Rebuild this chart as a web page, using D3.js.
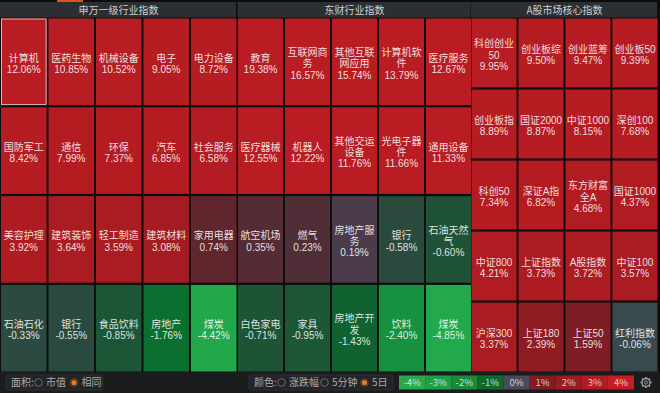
<!DOCTYPE html>
<html>
<head>
<meta charset="utf-8">
<script src="https://cdn.jsdelivr.net/npm/d3@7"></script>
<style>
  body { margin: 0; background: #0d0d0d; }
  text { font-family: "Noto Sans CJK SC", "Noto Sans", sans-serif; }
  text.cell { font-family: "Liberation Sans Narrow", "Liberation Sans", "Noto Sans CJK SC", sans-serif; }
</style>
</head>
<body>
<div id="chart"></div>
<script>
// panel titles
var panelTitles = ['申万一级行业指数', '东财行业指数', 'A股市场核心指数'];

// 申万一级行业指数
var swNames = ['计算机', '医药生物', '机械设备', '电子', '电力设备',
               '国防军工', '通信', '环保', '汽车', '社会服务',
               '美容护理', '建筑装饰', '轻工制造', '建筑材料', '家用电器',
               '石油石化', '银行', '食品饮料', '房地产', '煤炭'];
var swValues = [12.06, 10.85, 10.52, 9.05, 8.72,
                8.42, 7.99, 7.37, 6.85, 6.58,
                3.92, 3.64, 3.59, 3.08, 0.74,
                -0.33, -0.55, -0.85, -1.76, -4.42];

// 东财行业指数
var dcNames = ['教育', '互联网商务', '其他互联网应用', '计算机软件', '医疗服务',
               '医疗器械', '机器人', '其他交运设备', '光电子器件', '通用设备',
               '航空机场', '燃气', '房地产服务', '银行', '石油天然气',
               '白色家电', '家具', '房地产开发', '饮料', '煤炭'];
var dcValues = [19.38, 16.57, 15.74, 13.79, 12.67,
                12.55, 12.22, 11.76, 11.66, 11.33,
                0.35, 0.23, 0.19, -0.58, -0.60,
                -0.71, -0.95, -1.43, -2.40, -4.85];

// A股市场核心指数
var coreNames = ['科创创业50', '创业板综', '创业蓝筹', '创业板50',
                 '创业板指', '国证2000', '中证1000', '深创100',
                 '科创50', '深证A指', '东方财富全A', '国证1000',
                 '中证800', '上证指数', 'A股指数', '中证100',
                 '沪深300', '上证180', '上证50', '红利指数'];
var coreValues = [9.95, 9.50, 9.47, 9.39,
                  8.89, 8.87, 8.15, 7.68,
                  7.34, 6.82, 4.68, 4.37,
                  4.21, 3.73, 3.72, 3.57,
                  3.37, 2.39, 1.59, -0.06];

// legend
var legendLabels = ['-4%', '-3%', '-2%', '-1%', '0%', '1%', '2%', '3%', '4%'];

var chart_width = 660
var chart_height = 393

var svg = d3.select('#chart')
    .append('svg')
    .attr('width', chart_width)
    .attr('height', chart_height);

svg.append('rect')
    .attr('width', chart_width)
    .attr('height', chart_height)
    .attr('fill', '#0d0d0d');

// colour for change %
var color = d3.scaleLinear()
    .domain([-4.5, -2.4, -1.6, -1.0, -0.6, -0.59, -0.3, 0, 0.19, 0.23, 0.4, 0.75, 1.6, 2.4, 3.1, 4.2, 12])
    .range(['#22a94b', '#179140', '#0b672b', '#1b5836', '#1f5236', '#2a4a3e', '#2d4a42', '#3c4a52',
            '#4a3c4b', '#502e38', '#572a33', '#5f272d', '#7d1e24', '#8f1c22', '#a51c22', '#b11c22', '#b91d23'])
    .clamp(true);

var panels = [
    { names: swNames, values: swValues, cols: 5, rows: 4, x: [1, 236.5] },
    { names: dcNames, values: dcValues, cols: 5, rows: 4, x: [238, 471] },
    { names: coreNames, values: coreValues, cols: 4, rows: 5, x: [471.5, 657.5] }
];

// split label into lines (cjk = 2, ascii = 1, max 8)
function wrap(label) {
    var lines = [], cur = '', w = 0;
    for (var ch of label) {
        var cw = /[\x00-\x7f]/.test(ch) ? 1 : 2;
        if (w + cw > 8) { lines.push(cur); cur = ''; w = 0; }
        cur += ch; w += cw;
    }
    lines.push(cur);
    return lines;
}

// top strip + tab
svg.append('rect').attr('x', 57).attr('y', 0).attr('width', 26).attr('height', 2).attr('fill', '#e0541c');

panels.forEach(function(p, pi) {
    var x = d3.scaleBand().domain(d3.range(p.cols)).range(p.x).paddingInner(0.04);
    var y = d3.scaleBand().domain(d3.range(p.rows)).range([18.5, 371.5]).paddingInner(p.rows == 4 ? 0.025 : 0.03);

    // header
    var hx0 = pi == 0 ? 0 : p.x[0] - 0.5;
    var hx1 = pi == 2 ? 658 : p.x[1] + 0.5;
    svg.append('rect')
        .attr('x', hx0).attr('y', 2)
        .attr('width', hx1 - hx0 - 1).attr('height', 15.5)
        .attr('fill', '#2b2e32');
    svg.append('text')
        .text(panelTitles[pi])
        .attr('x', (hx0 + hx1) / 2)
        .attr('y', 13.6)
        .attr('text-anchor', 'middle')
        .attr('font-size', 10)
        .attr('fill', '#cfd1d4');

    var cells = svg.append('g').selectAll('g')
        .data(p.values)
        .enter()
        .append('g')
        .attr('transform', function(d, i) {
            return 'translate(' + x(i % p.cols) + ',' + y(Math.floor(i / p.cols)) + ')';
        });

    cells.append('rect')
        .attr('width', x.bandwidth())
        .attr('height', y.bandwidth())
        .attr('fill', function(d) { return color(d); });

    cells.each(function(d, i) {
        var lines = wrap(p.names[i]);
        lines.push(d.toFixed(2) + '%');
        var lh = 11.3;
        var cy = y.bandwidth() / 2 + 2;
        var top = cy - (lines.length - 1) * lh / 2 + 3.6;
        d3.select(this).selectAll('text')
            .data(lines)
            .enter()
            .append('text')
            .attr('class', 'cell')
            .text(function(t) { return t; })
            .attr('x', x.bandwidth() / 2)
            .attr('y', function(t, j) { return top + j * lh; })
            .attr('text-anchor', 'middle')
            .attr('font-size', 10)
            .attr('fill', 'rgba(255,255,255,0.86)');
    });

    // selected cell
    if (pi == 0) {
        svg.append('rect')
            .attr('x', x(0) + 0.5).attr('y', y(0) + 0.5)
            .attr('width', x.bandwidth() - 1).attr('height', y.bandwidth() - 1)
            .attr('fill', 'none')
            .attr('stroke', '#d8b4b4')
            .attr('stroke-width', 1);
    }
});

// bottom bar
svg.append('rect').attr('x', 0).attr('y', 372).attr('width', chart_width).attr('height', 21).attr('fill', '#1b1c1e');

function radioGroup(x0, x1, title, items, selected) {
    svg.append('rect')
        .attr('x', x0).attr('y', 375).attr('width', x1 - x0).attr('height', 15)
        .attr('rx', 2)
        .attr('fill', '#232427')
        .attr('stroke', '#2e2f33');
    svg.append('text').text(title)
        .attr('x', x0 + 5).attr('y', 386)
        .attr('font-size', 10).attr('fill', '#a9abae');
    items.forEach(function(it) {
        svg.append('circle')
            .attr('cx', it.x).attr('cy', 382.5).attr('r', 3.8)
            .attr('fill', 'none')
            .attr('stroke', it.label == selected ? '#6b4a38' : '#6a6c70')
            .attr('stroke-width', 1);
        if (it.label == selected) {
            svg.append('circle')
                .attr('cx', it.x).attr('cy', 382.5).attr('r', 2.6)
                .attr('fill', '#f07a22');
        }
        svg.append('text').text(it.label)
            .attr('x', it.x + 7.5).attr('y', 386)
            .attr('font-size', 10).attr('fill', '#a9abae');
    });
}

radioGroup(6, 103, '面积:', [{ x: 38.5, label: '市值' }, { x: 74, label: '相同' }], '相同');
radioGroup(249, 393, '颜色:', [{ x: 281.5, label: '涨跌幅' }, { x: 324.5, label: '5分钟' }, { x: 364.5, label: '5日' }], '5日');

// legend
var legendColors = ['#29a84b', '#219e45', '#1a8a3c', '#0f6a30', '#4a4a5c', '#801c24', '#981c22', '#b01c22', '#c41e24'];
var lx = d3.scaleBand().domain(legendLabels).range([399, 634]);

var leg = svg.append('g').selectAll('g')
    .data(legendLabels)
    .enter()
    .append('g');

leg.append('rect')
    .attr('x', function(d) { return lx(d); })
    .attr('y', 375.5)
    .attr('width', lx.bandwidth())
    .attr('height', 14)
    .attr('fill', function(d, i) { return legendColors[i]; });

leg.append('text')
    .text(function(d) { return d; })
    .attr('x', function(d) { return lx(d) + lx.bandwidth() / 2; })
    .attr('y', 386)
    .attr('text-anchor', 'middle')
    .attr('font-size', 9.5)
    .attr('fill', 'rgba(255,255,255,0.75)');

// gear
var gear = svg.append('g').attr('transform', 'translate(646,382.5)');
gear.selectAll('line')
    .data(d3.range(8))
    .enter()
    .append('line')
    .attr('x1', function(d) { return Math.cos(d * Math.PI / 4) * 3.5; })
    .attr('y1', function(d) { return Math.sin(d * Math.PI / 4) * 3.5; })
    .attr('x2', function(d) { return Math.cos(d * Math.PI / 4) * 5.5; })
    .attr('y2', function(d) { return Math.sin(d * Math.PI / 4) * 5.5; })
    .attr('stroke', '#9a9ca0')
    .attr('stroke-width', 1.8);
gear.append('circle').attr('r', 4).attr('fill', '#1b1c1e').attr('stroke', '#9a9ca0').attr('stroke-width', 1.4);
gear.append('circle').attr('r', 1.6).attr('fill', 'none').attr('stroke', '#9a9ca0').attr('stroke-width', 1);
</script>
</body>
</html>
